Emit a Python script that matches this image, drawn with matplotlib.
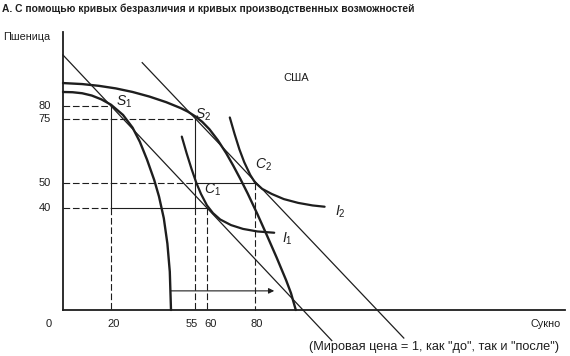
import matplotlib
matplotlib.use("Agg")
import matplotlib.pyplot as plt

plt.rcParams["font.family"] = ["Liberation Sans", "DejaVu Sans"]
plt.rcParams["mathtext.fontset"] = "custom"
plt.rcParams["mathtext.it"] = "Liberation Sans:italic"
plt.rcParams["mathtext.rm"] = "Liberation Sans"

# production possibility curves
ppf1_x = [0, 4, 8, 12, 16, 20, 25, 29, 32, 35, 38, 40, 42, 43.5, 44.5, 45]
ppf1_y = [85.5, 85.4, 85, 84.1, 82.6, 80.5, 76.5, 71.5, 66, 59, 51, 44.5, 36, 26, 15, 0]
ppf2_x = [0, 8, 15, 22, 29, 36, 43, 49, 52, 55, 58, 61, 64.5, 68, 71, 74, 77,
          81, 85, 89, 93, 95, 97]
ppf2_y = [89, 88.6, 87.9, 86.9, 85.5, 83.7, 81.5, 79.2, 77.8, 76, 73.8, 70.9,
          66.6, 61.5, 56.5, 51.2, 45.6, 37.6, 29.2, 20.6, 11.6, 6.6, 0]

# indifference curves
i1_x = [49.5, 51.5, 53.5, 55.5, 57.5, 60, 62.5, 65.5, 70, 75, 81, 88]
i1_y = [68, 61.5, 55.5, 50, 45.5, 41, 38, 35.5, 33.3, 31.8, 30.8, 30.3]
i2_x = [69.5, 71.5, 73.5, 75.5, 78, 80, 83, 87, 92, 98, 104, 109]
i2_y = [75.5, 69, 63, 58, 53, 50, 47.5, 45.5, 43.5, 42, 41, 40.5]

# world price lines (price = 1)
price1_x = [0, 112]
price1_y = [100, -12]
price2_x = [33, 142]
price2_y = [97, -11]

# production / consumption points
s1 = (20, 80)
s2 = (55, 75)
c1 = (60, 40)
c2 = (80, 50)

xtick_vals = [0, 20, 55, 60, 80]
ytick_vals = [80, 75, 50, 40]

ink = "#1e1e1e"

fig = plt.figure(figsize=(5.7, 3.56), dpi=100)
ax = fig.add_axes([0, 0, 1, 1])
ax.set_xlim(-26.25, 211.25)
ax.set_ylim(-18.04, 121.57)
ax.axis("off")

# axes
ax.plot([0, 0], [0, 109], color=ink, lw=1.3)
ax.plot([0, 209], [0, 0], color=ink, lw=1.3)

dash = dict(color=ink, lw=0.8, dashes=(6, 2.5))
solid = dict(color=ink, lw=0.8)

# guide lines
ax.plot([0, s1[0]], [s1[1], s1[1]], **dash)
ax.plot([0, s2[0]], [s2[1], s2[1]], **dash)
ax.plot([0, s2[0]], [c2[1], c2[1]], **dash)
ax.plot([s2[0], c2[0]], [c2[1], c2[1]], **solid)
ax.plot([0, s1[0]], [c1[1], c1[1]], **dash)
ax.plot([s1[0], c1[0]], [c1[1], c1[1]], **solid)
ax.plot([s1[0], s1[0]], [s1[1], c1[1]], **solid)
ax.plot([s1[0], s1[0]], [c1[1], 0], **dash)
ax.plot([s2[0], s2[0]], [s2[1], c1[1]], **solid)
ax.plot([s2[0], s2[0]], [c1[1], 0], **dash)
ax.plot([c1[0], c1[0]], [c1[1], 0], **dash)
ax.plot([c2[0], c2[0]], [c2[1], 0], **dash)

# price lines
ax.plot(price1_x, price1_y, color=ink, lw=0.9)
ax.plot(price2_x, price2_y, color=ink, lw=0.9)

# curves
ax.plot(ppf1_x, ppf1_y, color=ink, lw=1.7, solid_capstyle="round")
ax.plot(ppf2_x, ppf2_y, color=ink, lw=1.7, solid_capstyle="round")
ax.plot(i1_x, i1_y, color=ink, lw=1.6, solid_capstyle="round")
ax.plot(i2_x, i2_y, color=ink, lw=1.6, solid_capstyle="round")

# shift arrow
ax.annotate("", xy=(88, 7.5), xytext=(45, 7.5),
            arrowprops=dict(arrowstyle="-|>", color=ink, lw=0.8,
                            mutation_scale=8, shrinkA=0, shrinkB=0))

# tick labels
for v in ytick_vals:
    ax.text(-5, v, str(v), ha="right", va="center", fontsize=8, color=ink)
xoff = {0: -5.8, 20: 21, 55: 56, 60: 59, 80: 80.5}
xha = {0: "center", 20: "center", 55: "right", 60: "left", 80: "center"}
for v in xtick_vals:
    ax.text(xoff[v], -5.3, str(v), ha=xha[v], va="center", fontsize=8, color=ink)

# point labels
lab = dict(fontsize=10, color=ink, ha="center", va="center")
ax.text(25.4, 81.5, "$S_1$", **lab)
ax.text(58.5, 76.5, "$S_2$", **lab)
ax.text(62.3, 47, "$C_1$", **lab)
ax.text(83.5, 57, "$C_2$", **lab)
ax.text(93.5, 28, "$I_1$", **lab)
ax.text(115.5, 38.5, "$I_2$", **lab)

# other texts
ax.text(-25.3, 118, "А. С помощью кривых безразличия и кривых производственных возможностей",
        ha="left", va="center", fontsize=7.4, fontweight="bold", color=ink)
ax.text(-25, 107, "Пшеница", ha="left", va="center", fontsize=7.8, color=ink)
ax.text(97, 91, "США", ha="center", va="center", fontsize=8, color=ink)
ax.text(201, -5.5, "Сукно", ha="center", va="center", fontsize=7.8, color=ink)
ax.text(154.5, -14.5, '(Мировая цена = 1, как "до", так и "после")',
        ha="center", va="center", fontsize=9.2, color=ink)

fig.savefig("out.png", dpi=100)
